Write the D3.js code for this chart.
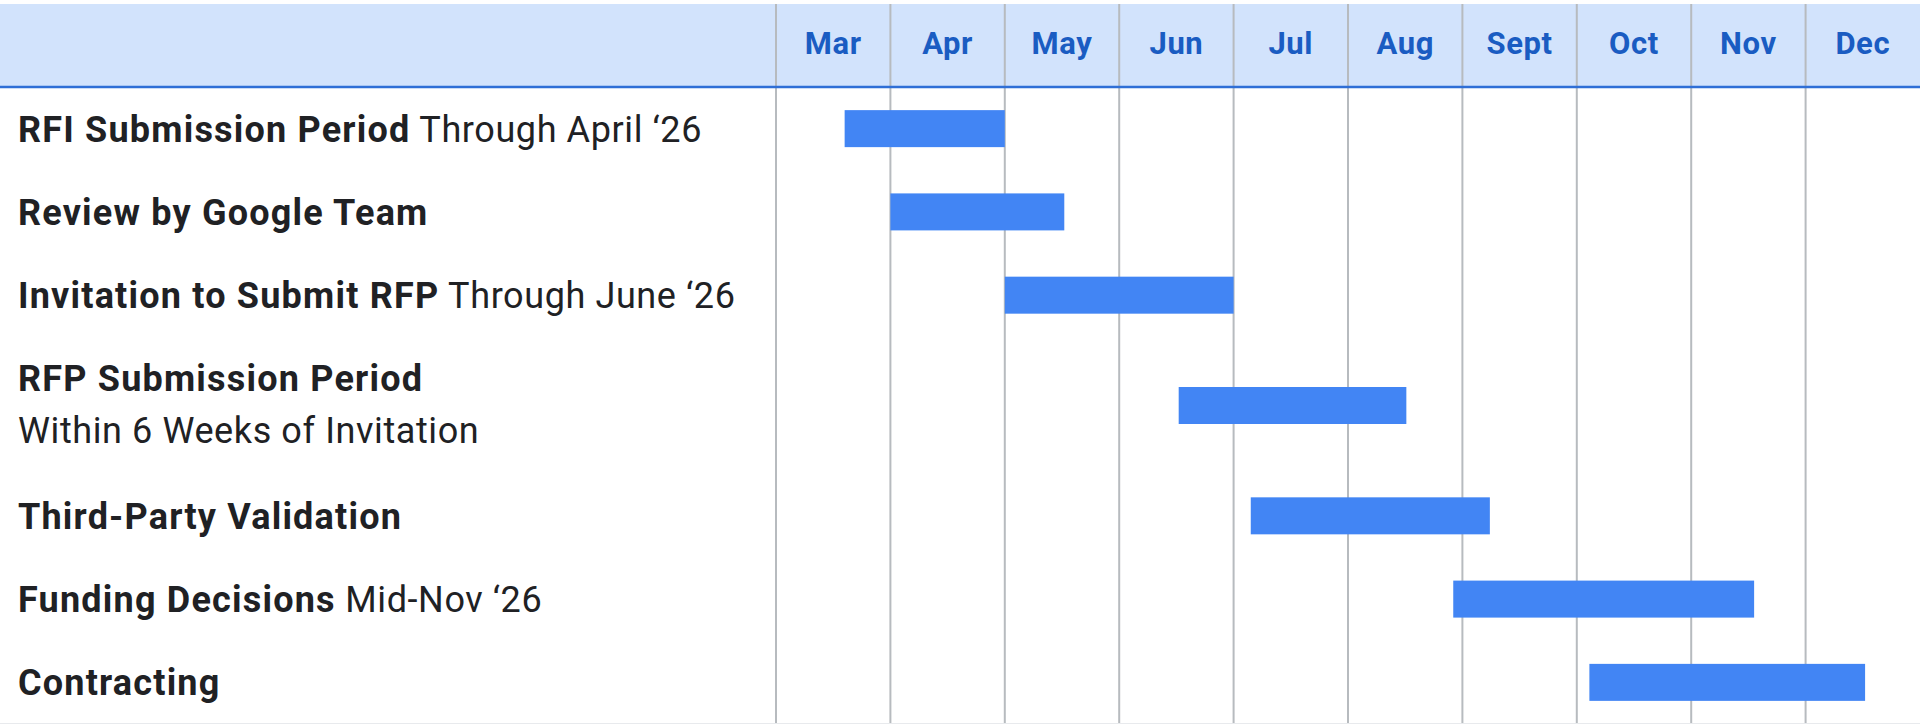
<!DOCTYPE html>
<html lang="en">
<head>
    <meta charset="UTF-8">
    <title>RFI / RFP Timeline</title>
    <style>
        body { margin: 0; background: #fff; }
        #chart-container { width: 1920px; height: 724px; }
        text { font-family: Roboto, "Noto Sans", sans-serif; }
    </style>
    <script src="https://cdnjs.cloudflare.com/ajax/libs/d3/7.8.5/d3.min.js"></script>
</head>
<body>
    <div id="chart-container"></div>

    <script>
        // Month columns (Mar 2026 - Dec 2026)
        const months = ["Mar", "Apr", "May", "Jun", "Jul", "Aug", "Sept", "Oct", "Nov", "Dec"];

        // Tasks: bold title, regular note, and whether the note sits on a second line
        const titles = [
            "RFI Submission Period",
            "Review by Google Team",
            "Invitation to Submit RFP",
            "RFP Submission Period",
            "Third-Party Validation",
            "Funding Decisions",
            "Contracting"
        ];
        const notes = [" Through April \u201826", "", " Through June \u201826", "Within 6 Weeks of Invitation", "", " Mid-Nov \u201826", ""];
        const noteOnNewLine = [false, false, false, true, false, false, false];

        // Start / end of each bar, in months counted from 1 March
        const starts = [0.6, 1.0, 2.0, 3.52, 4.15, 5.92, 7.11];
        const ends   = [2.0, 2.52, 4.0, 5.51, 6.24, 8.55, 9.52];

        const width = 1920, height = 724;
        const headerTop = 4, headerBottom = 87;
        const timelineLeft = 776;

        const svg = d3.select("#chart-container")
            .append("svg")
            .attr("width", width)
            .attr("height", height);

        // x scale: equal-width month columns
        const x = d3.scaleLinear()
            .domain([0, months.length])
            .range([timelineLeft, width]);

        // rows: two-line rows are taller
        const rowWeights = noteOnNewLine.map(d => d ? 1.65 : 1);
        const unit = (height - headerBottom) / d3.sum(rowWeights);
        const rowTop = [];
        rowWeights.reduce((acc, w, i) => { rowTop[i] = acc; return acc + w * unit; }, headerBottom);
        const rowCenter = i => rowTop[i] + rowWeights[i] * unit / 2;

        // header band
        svg.append("rect")
            .attr("x", 0).attr("y", headerTop)
            .attr("width", width).attr("height", headerBottom - headerTop)
            .attr("fill", "#d2e3fc");

        // vertical grid lines at month boundaries
        svg.selectAll(".grid")
            .data(d3.range(months.length))
            .enter()
            .append("line")
            .attr("class", "grid")
            .attr("x1", d => x(d)).attr("x2", d => x(d))
            .attr("y1", headerTop).attr("y2", height)
            .attr("stroke", "#b7bbbf")
            .attr("stroke-width", 2);

        // header underline
        svg.append("line")
            .attr("x1", 0).attr("x2", width)
            .attr("y1", headerBottom).attr("y2", headerBottom)
            .attr("stroke", "#2f6fd6")
            .attr("stroke-width", 2.5);

        // bottom border
        svg.append("line")
            .attr("x1", 0).attr("x2", width)
            .attr("y1", height - 0.5).attr("y2", height - 0.5)
            .attr("stroke", "#e8eaed")
            .attr("stroke-width", 1);

        // month labels
        svg.selectAll(".month")
            .data(months)
            .enter()
            .append("text")
            .attr("class", "month")
            .attr("x", (d, i) => x(i + 0.5))
            .attr("y", (headerTop + headerBottom) / 2 - 3)
            .attr("dy", "0.36em")
            .attr("text-anchor", "middle")
            .attr("font-size", 31)
            .attr("font-weight", 700)
            .attr("letter-spacing", 0.6)
            .attr("fill", "#1a5cc2")
            .text(d => d);

        // bars
        const barHeight = 37;
        svg.selectAll(".bar")
            .data(titles)
            .enter()
            .append("rect")
            .attr("class", "bar")
            .attr("x", (d, i) => x(starts[i]))
            .attr("y", (d, i) => rowCenter(i) - barHeight / 2)
            .attr("width", (d, i) => x(ends[i]) - x(starts[i]))
            .attr("height", barHeight)
            .attr("fill", "#4285f4");

        // row labels
        const labels = svg.selectAll(".label")
            .data(titles)
            .enter()
            .append("text")
            .attr("class", "label")
            .attr("x", 18)
            .attr("y", (d, i) => noteOnNewLine[i] ? rowCenter(i) - 27 : rowCenter(i))
            .attr("dy", "0.36em")
            .attr("font-size", 36)
            .attr("fill", "#202124");

        labels.append("tspan")
            .attr("font-weight", 700)
            .attr("letter-spacing", 1.2)
            .text(d => d);

        labels.append("tspan")
            .attr("font-weight", 400)
            .attr("letter-spacing", 0.6)
            .attr("x", (d, i) => noteOnNewLine[i] ? 18 : null)
            .attr("dy", (d, i) => noteOnNewLine[i] ? 52 : null)
            .text((d, i) => notes[i]);
    </script>
</body>
</html>
